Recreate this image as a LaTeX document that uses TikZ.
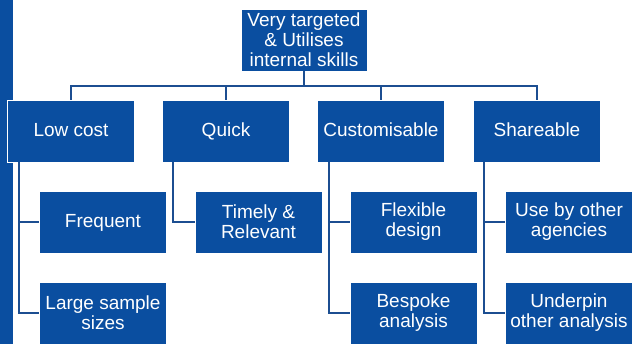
\documentclass[tikz,border=0pt]{standalone}
\usepackage{fontspec}
\setmainfont{Liberation Sans}
\usepackage{tikz}
\usetikzlibrary{calc,positioning}
\definecolor{boxblue}{RGB}{10,78,160}
\definecolor{lineblue}{RGB}{28,78,145}
\tikzset{
mybox/.style={
  draw=white,
  line width=0.8pt,
  fill=boxblue,
  text=white,
  align=center,
  inner sep=0pt,
  minimum width=127pt,
  minimum height=62pt,
  font=\fontsize{19}{20}\selectfont
  },
myboxs/.style={
  mybox,
  text height=14.5pt,
  text depth=2.5pt
  },
myline/.style={
  draw=lineblue,
  line width=1.6pt
  }
}
\begin{document}
\begin{tikzpicture}[x=1pt,y=-1pt]
            \useasboundingbox (0,0) rectangle (638,344);
            \fill[boxblue] (0,0) rectangle (13,344);
            % top and first level
            \node[mybox,minimum width=126pt] (top) at (304,40) {Very targeted\\\& Utilises\\internal skills};
            \node[myboxs] (low) at (71,131) {Low cost};
            \node[myboxs] (quick) at (226,131) {Quick};
            \node[myboxs] (custom) at (381,131) {Customisable};
            \node[myboxs] (share) at (537,131) {Shareable};
            % second level
            \node[myboxs] (freq) at (103,222) {Frequent};
            \node[mybox] (large) at (103,313) {Large sample\\sizes};
            \node[mybox] (timely) at (258.5,222) {Timely \&\\Relevant};
            \node[mybox] (flex) at (413.5,222) {Flexible\\design};
            \node[mybox] (besp) at (413.5,313) {Bespoke\\analysis};
            \node[mybox] (use) at (569,222) {Use by other\\agencies};
            \node[mybox] (under) at (569,313) {Underpin\\other analysis};
            % connectors
            \coordinate (bus) at (304,86);
            \draw[myline] (top.south) -- (bus);
            \foreach \n in {low,quick,custom,share}
                \draw[myline] (bus) -| (\n.north);
            \draw[myline] ([xshift=12pt]low.south west) |- (freq.west);
            \draw[myline] ([xshift=12pt]low.south west) |- (large.west);
            \draw[myline] ([xshift=11pt]quick.south west) |- (timely.west);
            \draw[myline] ([xshift=12pt]custom.south west) |- (flex.west);
            \draw[myline] ([xshift=12pt]custom.south west) |- (besp.west);
            \draw[myline] ([xshift=11pt]share.south west) |- (use.west);
            \draw[myline] ([xshift=11pt]share.south west) |- (under.west);
        \end{tikzpicture}
\end{document}
